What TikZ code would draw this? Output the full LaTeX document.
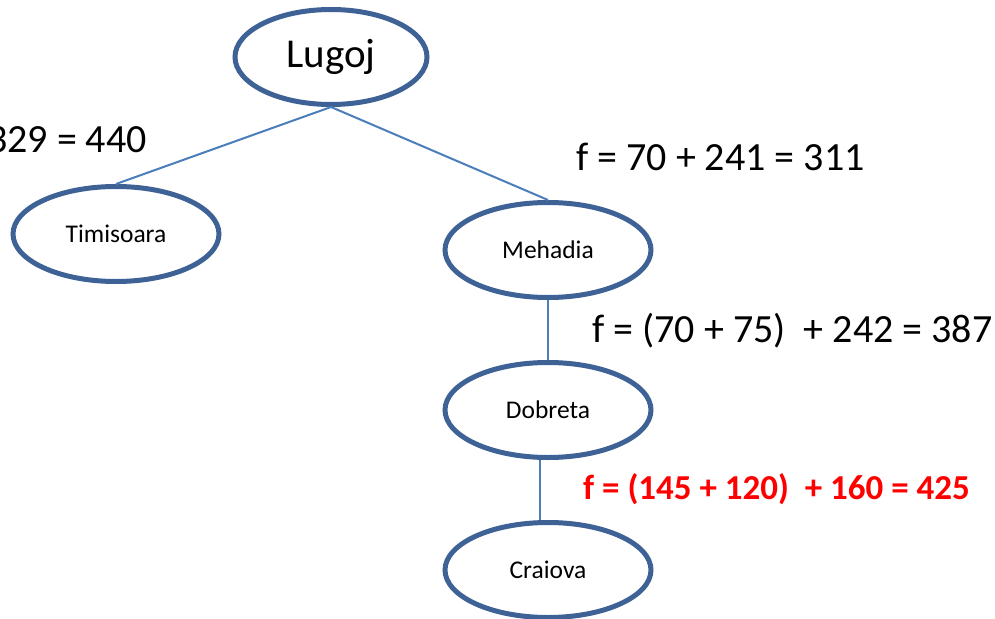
\documentclass[tikz,border=0pt]{standalone}
\usepackage{fontspec}
\setmainfont{Carlito}
\usetikzlibrary{shapes.geometric}
\definecolor{nodeline}{HTML}{3E6295}
\definecolor{edgeline}{HTML}{4A7EBB}
\tikzset{
  city/.style={ellipse, draw=nodeline, line width=5pt, fill=white,
    minimum width=206pt, minimum height=95pt, inner sep=0pt,
    font=\fontsize{25.5}{30}\selectfont},
  edge/.style={draw=edgeline, line width=2pt},
  cost/.style={anchor=west, inner sep=0pt, font=\fontsize{40}{48}\selectfont},
  best/.style={anchor=west, inner sep=0pt, text=red,
    font=\fontsize{35}{42}\selectfont\bfseries}
}
\begin{document}
\begin{tikzpicture}[x=1pt, y=-1pt]
  \useasboundingbox (0,0) rectangle (995,618);
  \clip (0,0) rectangle (995,618);

  % search tree nodes
  \node[city, minimum width=192pt, font=\fontsize{41}{49}\selectfont] (lugoj) at (331,57) {Lugoj};
  \node[city] (tim) at (116,234) {Timisoara};
  \node[city] (meh) at (548,250) {Mehadia};
  \node[city] (dob) at (548,410) {Dobreta};
  \node[city] (cra) at (548,570) {Craiova};

  % tree edges
  \draw[edge] (lugoj.south) -- (tim.north);
  \draw[edge] (lugoj.south) -- (meh.north);
  \draw[edge] (meh.south) -- (dob.north);
  \draw[edge] ([xshift=-8pt]dob.south) -- ([xshift=-8pt]cra.north);

  % evaluation f = g + h
  \node[cost, anchor=east] (ftim) at (147,140) {329 = 440};
  \node[cost] (fmeh) at (576,157) {f = 70 + 241 = 311};
  \node[cost] (fdob) at (592,331) {f = (70 + 75)~ + 242 = 387};
  \node[best] (fcra) at (583,489) {f = (145 + 120)~ + 160 = 425};
\end{tikzpicture}
\end{document}
